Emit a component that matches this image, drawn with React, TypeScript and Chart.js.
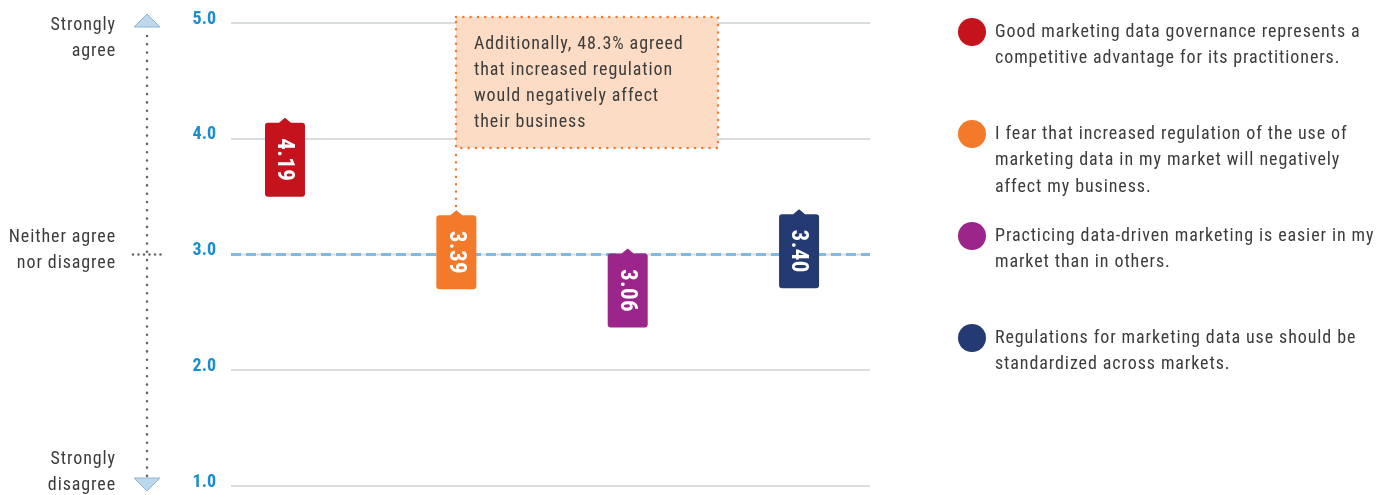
import React, { useEffect, useRef } from "react";
import { Chart, registerables } from "chart.js";

Chart.register(...registerables);

// ---------- data ----------
const statementLines: string[][] = [
  ["Good marketing data governance represents a", "competitive advantage for its practitioners."],
  ["I fear that increased regulation of the use of", "marketing data in my market will negatively", "affect my business."],
  ["Practicing data-driven marketing is easier in my", "market than in others."],
  ["Regulations for marketing data use should be", "standardized across markets."],
];
const scores = [4.19, 3.39, 3.06, 3.4];
const scoreLabels = ["4.19", "3.39", "3.06", "3.40"];
const positions = [1, 2, 3, 4];
const colors = ["#c4131d", "#f47a2b", "#9c258b", "#233a72"];
const yTickValues = [1, 2, 3, 4, 5];
const neutralValue = 3;
const scaleNames = [
  { value: 5, lines: ["Strongly", "agree"] },
  { value: 3, lines: ["Neither agree", "nor disagree"] },
  { value: 1, lines: ["Strongly", "disagree"] },
];
const calloutIndex = 1;
const calloutLines = [
  "Additionally, 48.3% agreed",
  "that increased regulation",
  "would negatively affect",
  "their business",
];

const FONT = "'Liberation Sans Narrow', 'Arial Narrow', 'Roboto Condensed', 'Liberation Sans', sans-serif";
const TEXT = "#3c3c3c";
const SPACING = "0.9px";

function dottedLine(ctx: CanvasRenderingContext2D, x1: number, y1: number, x2: number, y2: number, color: string, w: number, gap: number) {
  ctx.save();
  ctx.strokeStyle = color;
  ctx.lineWidth = w;
  ctx.lineCap = "round";
  ctx.setLineDash([0, gap]);
  ctx.beginPath();
  ctx.moveTo(x1, y1);
  ctx.lineTo(x2, y2);
  ctx.stroke();
  ctx.restore();
}

const decorPlugin = {
  id: "decor",
  beforeDatasetsDraw(chart: any) {
    const { ctx, chartArea, scales } = chart;
    const yy = scales.y.getPixelForValue(neutralValue);
    ctx.save();
    ctx.strokeStyle = "#d9dddd";
    ctx.lineWidth = 2;
    ctx.beginPath();
    ctx.moveTo(chartArea.left, yy);
    ctx.lineTo(chartArea.right, yy);
    ctx.stroke();
    ctx.strokeStyle = "#7fbae4";
    ctx.lineWidth = 3;
    ctx.setLineDash([10, 5]);
    ctx.beginPath();
    ctx.moveTo(chartArea.left, yy);
    ctx.lineTo(chartArea.right, yy);
    ctx.stroke();
    ctx.restore();
  },
  afterDatasetsDraw(chart: any) {
    const { ctx, chartArea } = chart;
    // callout box
    const cp = chart.getDatasetMeta(calloutIndex).data[0];
    const bx = Math.round(cp.x);
    const by = chartArea.top - 6;
    const bw = 262;
    const bh = 131;
    ctx.save();
    ctx.fillStyle = "#fcdcc4";
    ctx.fillRect(bx, by, bw, bh);
    ctx.strokeStyle = colors[calloutIndex];
    ctx.lineWidth = 2.5;
    ctx.lineCap = "round";
    ctx.setLineDash([0, 7.3]);
    ctx.strokeRect(bx, by, bw, bh);
    ctx.restore();
    dottedLine(ctx, bx, by + bh + 7, bx, cp.y - 2, colors[calloutIndex], 2.5, 7.3);
    ctx.save();
    ctx.fillStyle = TEXT;
    ctx.font = `18px ${FONT}`;
    (ctx as any).letterSpacing = SPACING;
    ctx.textAlign = "left";
    ctx.textBaseline = "middle";
    calloutLines.forEach((l, i) => ctx.fillText(l, bx + 18, by + 27 + i * 26.3));
    ctx.restore();

    // tags
    chart.data.datasets.forEach((ds: any, di: number) => {
      const p = chart.getDatasetMeta(di).data[0];
      const px = p.x;
      const py = p.y + 1;
      const w = 40;
      const tip = 5;
      const h = 74;
      const r = 3;
      const l = px - w / 2;
      const t = py + tip;
      ctx.save();
      ctx.fillStyle = ds.backgroundColor;
      ctx.beginPath();
      ctx.moveTo(l + r, t);
      ctx.lineTo(px - 6, t);
      ctx.lineTo(px, py);
      ctx.lineTo(px + 6, t);
      ctx.lineTo(l + w - r, t);
      ctx.quadraticCurveTo(l + w, t, l + w, t + r);
      ctx.lineTo(l + w, t + h - r);
      ctx.quadraticCurveTo(l + w, t + h, l + w - r, t + h);
      ctx.lineTo(l + r, t + h);
      ctx.quadraticCurveTo(l, t + h, l, t + h - r);
      ctx.lineTo(l, t + r);
      ctx.quadraticCurveTo(l, t, l + r, t);
      ctx.closePath();
      ctx.fill();
      ctx.translate(px, t + h / 2);
      ctx.rotate(Math.PI / 2);
      ctx.fillStyle = "#ffffff";
      ctx.font = `bold 23px ${FONT}`;
      (ctx as any).letterSpacing = "0.4px";
      ctx.textAlign = "center";
      ctx.textBaseline = "middle";
      ctx.fillText(scoreLabels[di], 0, 1);
      ctx.restore();
    });
  },
  afterDraw(chart: any) {
    const { ctx, scales } = chart;
    const y = scales.y;
    const ax = 147;
    const yTop = y.getPixelForValue(5);
    const yBot = y.getPixelForValue(1);
    const yMid = y.getPixelForValue(neutralValue);

    // vertical dotted scale line
    dottedLine(ctx, ax, yTop + 13, ax, yBot - 9, "#666666", 2.6, 8.3);
    dottedLine(ctx, ax - 14, yMid, ax + 16, yMid, "#666666", 2.6, 5.5);

    // triangles
    ctx.save();
    ctx.fillStyle = "#bdd8ec";
    ctx.strokeStyle = "#8fb5d5";
    ctx.lineWidth = 1;
    ctx.beginPath();
    ctx.moveTo(ax, yTop - 9);
    ctx.lineTo(ax + 13, yTop + 4);
    ctx.lineTo(ax - 13, yTop + 4);
    ctx.closePath();
    ctx.fill();
    ctx.stroke();
    ctx.beginPath();
    ctx.moveTo(ax - 13, yBot - 8);
    ctx.lineTo(ax + 13, yBot - 8);
    ctx.lineTo(ax, yBot + 5);
    ctx.closePath();
    ctx.fill();
    ctx.stroke();
    ctx.restore();

    // scale names
    ctx.save();
    ctx.fillStyle = TEXT;
    ctx.font = `18px ${FONT}`;
    (ctx as any).letterSpacing = SPACING;
    ctx.textAlign = "right";
    ctx.textBaseline = "middle";
    const offsets: Record<number, number> = { 5: 2, 3: -17, 1: -27 };
    scaleNames.forEach((s) => {
      const base = y.getPixelForValue(s.value) + offsets[s.value];
      s.lines.forEach((l, i) => ctx.fillText(l, 116, base + i * 26.3));
    });
    ctx.restore();

    // legend
    ctx.save();
    ctx.font = `18px ${FONT}`;
    (ctx as any).letterSpacing = SPACING;
    ctx.textAlign = "left";
    ctx.textBaseline = "middle";
    chart.data.datasets.forEach((ds: any, i: number) => {
      const cy = 32 + i * 102;
      ctx.fillStyle = ds.backgroundColor;
      ctx.beginPath();
      ctx.arc(972, cy, 14, 0, Math.PI * 2);
      ctx.fill();
      ctx.fillStyle = TEXT;
      statementLines[i].forEach((l, j) => ctx.fillText(l, 995, cy + j * 26.5));
    });
    ctx.restore();
  },
};

export default function App() {
  const ref = useRef<HTMLCanvasElement | null>(null);
  useEffect(() => {
    if (!ref.current) return;
    const chart = new Chart(ref.current, {
      type: "scatter",
      data: {
        datasets: statementLines.map((lines, i) => ({
          label: lines.join(" "),
          data: [{ x: positions[i], y: scores[i] }],
          backgroundColor: colors[i],
          borderColor: colors[i],
          pointRadius: 0,
          pointHoverRadius: 0,
        })),
      },
      options: {
        responsive: false,
        animation: false,
        events: [],
        layout: { padding: { left: 0, right: 520, top: 23, bottom: 9 } },
        plugins: { legend: { display: false }, tooltip: { enabled: false } },
        scales: {
          x: { type: "linear", display: false, min: 0.685, max: 4.414 },
          y: {
            min: 1,
            max: 5,
            afterBuildTicks: (s: any) => {
              s.ticks = yTickValues.map((v) => ({ value: v }));
            },
            afterFit: (s: any) => {
              s.width = 231;
            },
            border: { display: false },
            grid: {
              drawTicks: true,
              tickLength: 15,
              tickColor: "rgba(0,0,0,0)",
              lineWidth: 2,
              color: (c: any) => (c.tick && c.tick.value === neutralValue ? "rgba(0,0,0,0)" : "#d9dddd"),
            },
            ticks: {
              padding: 0,
              labelOffset: -4,
              color: "#1b8dcd",
              font: { family: FONT, size: 18, weight: "bold", lineHeight: 1 },
              callback: (v: any) => Number(v).toFixed(1),
            },
          },
        },
      },
      plugins: [decorPlugin],
    } as any);
    return () => chart.destroy();
  }, []);
  return (
    <div style={{ position: "absolute", left: 0, top: 0, width: 1390, height: 495, background: "#fff" }}>
      <canvas ref={ref} width={1390} height={495} style={{ display: "block" }} />
    </div>
  );
}
